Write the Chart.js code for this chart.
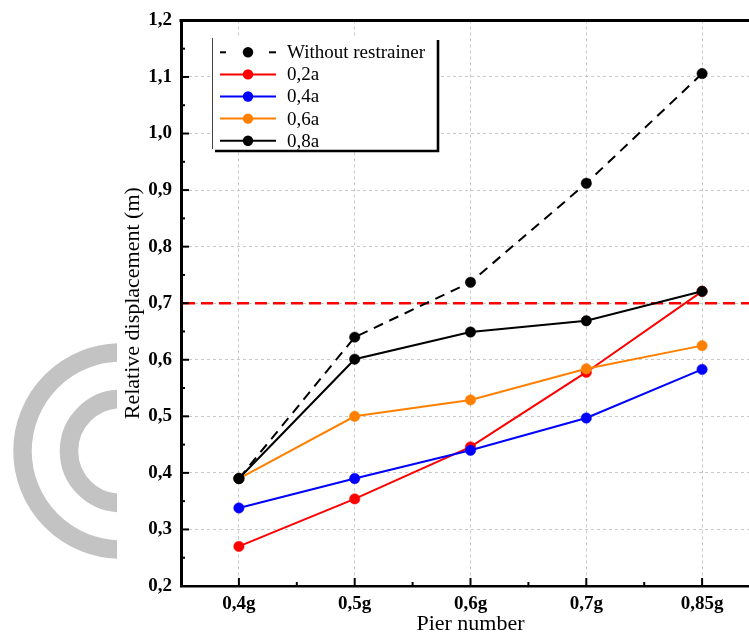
<!DOCTYPE html>
<html>
<head>
<meta charset="utf-8">
<script src="https://cdn.jsdelivr.net/npm/chart.js@4.4.0/dist/chart.umd.min.js"></script>
<style>
  html, body { margin: 0; padding: 0; background: #fff; overflow: hidden; }
  #wrap { position: relative; width: 780px; height: 637px; }
</style>
</head>
<body>
<div id="wrap"><canvas id="c"></canvas></div>
<script>
// Peak ground acceleration levels on the x axis
const pgaLevels = ['0,4g', '0,5g', '0,6g', '0,7g', '0,85g'];

// Relative displacement (m) for each configuration
const withoutRestrainer = [0.390, 0.640, 0.737, 0.912, 1.106];
const ratio02a = [0.270, 0.354, 0.446, 0.578, 0.721];
const ratio04a = [0.338, 0.390, 0.440, 0.497, 0.583];
const ratio06a = [0.390, 0.500, 0.529, 0.584, 0.625];
const ratio08a = [0.390, 0.601, 0.649, 0.669, 0.721];

const seriesLabels = ['Without restrainer', '0,2a', '0,4a', '0,6a', '0,8a'];

// Allowable displacement limit
const allowableDisp = 0.7;

// Y axis range
const yMin = 0.2;
const yMax = 1.2;
const yStep = 0.1;

const SERIF = "'Liberation Serif', 'Times New Roman', serif";

function series(label, data, color, order, dash) {
  return {
    label, data, order,
    borderColor: color,
    backgroundColor: color,
    pointBackgroundColor: color,
    pointBorderColor: color,
    borderWidth: 2,
    borderDash: dash || [],
    pointRadius: 5.2,
    pointHoverRadius: 5.2,
    pointBorderWidth: 0.5,
    tension: 0,
    fill: false
  };
}

// Decorative grey rings at the left margin
const emblem = {
  id: 'emblem',
  beforeDraw(chart) {
    const ctx = chart.ctx;
    ctx.save();
    ctx.beginPath();
    ctx.rect(0, 0, 117, chart.height);
    ctx.clip();
    ctx.strokeStyle = '#c3c3c3';
    ctx.lineWidth = 18.5;
    [98.5, 52].forEach(r => {
      ctx.beginPath();
      ctx.arc(121, 451, r, 0, Math.PI * 2);
      ctx.stroke();
    });
    ctx.restore();
  }
};

// Red dashed limit line
const limitLine = {
  id: 'limitLine',
  beforeDatasetsDraw(chart) {
    const { ctx, chartArea: a, scales: { y } } = chart;
    const py = y.getPixelForValue(allowableDisp);
    ctx.save();
    ctx.strokeStyle = '#ff0000';
    ctx.lineWidth = 2.6;
    ctx.setLineDash([12, 6]);
    ctx.beginPath();
    ctx.moveTo(a.left + 2, py);
    ctx.lineTo(a.right, py);
    ctx.stroke();
    ctx.restore();
  }
};

// Top frame line and inward major/minor tick marks
const frame = {
  id: 'frame',
  afterDatasetsDraw(chart) {
    const { ctx, chartArea: a, scales: { x, y } } = chart;
    ctx.save();
    ctx.strokeStyle = '#000';
    ctx.lineWidth = 3;
    ctx.beginPath();
    ctx.moveTo(a.left - 1.5, a.top);
    ctx.lineTo(a.right, a.top);
    ctx.stroke();

    ctx.lineWidth = 2;
    const seg = (x1, y1, x2, y2) => { ctx.beginPath(); ctx.moveTo(x1, y1); ctx.lineTo(x2, y2); ctx.stroke(); };
    for (let i = 0; i < pgaLevels.length; i++) {
      const px = x.getPixelForValue(i);
      seg(px, a.bottom, px, a.bottom - 8);
      const pm = x.getPixelForValue(i + 0.5);
      seg(pm, a.bottom, pm, a.bottom - 4);
    }
    const n = Math.round((yMax - yMin) / (yStep / 2));
    for (let k = 1; k < n; k++) {
      const py = y.getPixelForValue(yMin + k * yStep / 2);
      seg(a.left, py, a.left + (k % 2 === 0 ? 8 : 4), py);
    }
    ctx.restore();
  }
};

// Boxed legend with drop shadow inside the plot
const legendBox = {
  id: 'legendBox',
  afterDatasetsDraw(chart) {
    const ctx = chart.ctx;
    const L = 212, T = 38, R = 438, B = 151;
    ctx.save();
    ctx.fillStyle = '#fff';
    ctx.fillRect(L, T, R - L, B - T);
    ctx.strokeStyle = '#444';
    ctx.lineWidth = 1;
    ctx.beginPath();
    ctx.moveTo(L + 0.5, T);
    ctx.lineTo(L + 0.5, B - 2);
    ctx.stroke();
    ctx.strokeStyle = '#000';
    ctx.lineWidth = 2.6;
    ctx.beginPath();
    ctx.moveTo(R, T + 2);
    ctx.lineTo(R, B);
    ctx.lineTo(L + 3, B);
    ctx.stroke();

    const rowY0 = 52.3, rowH = 22.1;
    const sx1 = 220, sx2 = 276, mx = 248, tx = 287;
    const byLabel = {};
    chart.data.datasets.forEach(d => { byLabel[d.label] = d; });
    seriesLabels.forEach((lab, i) => {
      const d = byLabel[lab];
      const ry = rowY0 + i * rowH;
      ctx.strokeStyle = d.borderColor;
      ctx.lineWidth = 2;
      if (d.borderDash && d.borderDash.length) {
        ctx.beginPath(); ctx.moveTo(sx1, ry); ctx.lineTo(sx1 + 6, ry); ctx.stroke();
        ctx.beginPath(); ctx.moveTo(sx2 - 7, ry); ctx.lineTo(sx2, ry); ctx.stroke();
      } else {
        ctx.beginPath(); ctx.moveTo(sx1, ry); ctx.lineTo(sx2, ry); ctx.stroke();
      }
      ctx.fillStyle = d.pointBackgroundColor;
      ctx.beginPath(); ctx.arc(mx, ry, 5.2, 0, Math.PI * 2); ctx.fill();
      ctx.fillStyle = '#000';
      ctx.font = '19px ' + SERIF;
      ctx.textBaseline = 'middle';
      ctx.textAlign = 'left';
      ctx.fillText(lab, tx, ry + 1);
    });
    ctx.restore();
  }
};

new Chart(document.getElementById('c'), {
  type: 'line',
  data: {
    labels: pgaLevels,
    datasets: [
      series(seriesLabels[0], withoutRestrainer, '#000000', 0, [10, 7]),
      series(seriesLabels[1], ratio02a, '#ff0000', 4),
      series(seriesLabels[2], ratio04a, '#0000ff', 3),
      series(seriesLabels[3], ratio06a, '#ff8000', 2),
      series(seriesLabels[4], ratio08a, '#000000', 1)
    ]
  },
  options: {
    responsive: true,
    maintainAspectRatio: false,
    animation: false,
    events: [],
    layout: { padding: { left: 120, top: 20, right: 20, bottom: 0 } },
    plugins: { legend: { display: false }, tooltip: { enabled: false } },
    scales: {
      x: {
        type: 'category',
        offset: true,
        grid: { offset: false, color: '#c8c8c8', lineWidth: 1, drawTicks: false },
        border: { display: true, color: '#000', width: 2.6, dash: [3, 3] },
        ticks: { padding: 7, color: '#000', font: { family: SERIF, size: 19, weight: 'bold' } },
        title: { display: true, text: 'Pier number', color: '#000', font: { family: SERIF, size: 22 }, padding: { top: 0, bottom: 0 } },
        afterFit(s) { s.height = 51; }
      },
      y: {
        min: yMin,
        max: yMax,
        grid: { color: '#c8c8c8', lineWidth: 1, drawTicks: false },
        border: { display: true, color: '#000', width: 3, dash: [3, 3] },
        ticks: {
          stepSize: yStep,
          padding: 9,
          color: '#000',
          font: { family: SERIF, size: 19, weight: 'bold' },
          callback: v => Number(v).toFixed(1).replace('.', ',')
        },
        title: { display: true, text: 'Relative displacement (m)', color: '#000', font: { family: SERIF, size: 22 }, padding: { top: 0, bottom: 0 } },
        afterFit(s) { s.width = 61; }
      }
    }
  },
  plugins: [emblem, limitLine, frame, legendBox]
});
</script>
</body>
</html>
